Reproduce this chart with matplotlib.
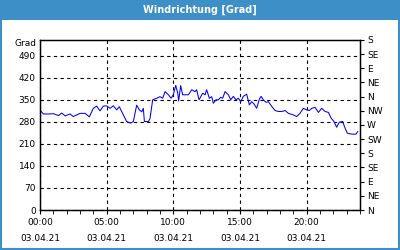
import matplotlib
matplotlib.use('Agg')
import matplotlib.pyplot as plt
from matplotlib.patches import Rectangle

# hours since 03.04.21 00:00 and wind direction in degrees
hours = [0.05, 0.25, 0.63, 1.0, 1.38, 1.63, 1.88, 2.25, 2.5, 3.0, 3.38, 3.7,
         4.0, 4.25, 4.5, 4.75, 5.0, 5.25, 5.5, 5.75, 5.95, 6.25, 6.5, 6.8,
         7.0, 7.25, 7.45, 7.63, 7.75, 7.83, 8.13, 8.25, 8.45, 8.75, 9.0, 9.2,
         9.38, 9.63, 9.83, 10.0, 10.18, 10.33, 10.4, 10.55, 10.7, 10.88, 11.13,
         11.38, 11.63, 11.75, 11.93,
         12.2, 12.38, 12.5, 12.7, 12.88, 13.0, 13.2, 13.38, 13.55, 13.7, 13.88,
         14.13, 14.3, 14.5, 14.7, 14.88, 15.05, 15.25, 15.5, 15.7, 15.88, 16.05,
         16.25, 16.45, 16.58, 16.75, 16.95, 17.13, 17.38, 17.63, 17.88, 18.13,
         18.38, 18.63, 19.0, 19.25, 19.5, 19.75, 20.0, 20.2, 20.38, 20.63, 20.88,
         21.13, 21.38, 21.63, 21.83, 22.05, 22.25, 22.45, 22.7, 22.88, 23.05,
         23.38, 23.7, 23.83]
degrees = [315, 305, 305, 306, 300, 308, 299, 305, 297, 307, 307, 296,
           323, 330, 315, 330, 331, 323, 331, 318, 328, 302, 281, 276,
           281, 333, 318, 312, 323, 281, 281, 290, 350, 355, 360, 355,
           376, 366, 355, 366, 396, 371, 347, 395, 366, 366, 366,
           382, 376, 382, 350,
           371, 366, 382, 355, 360, 339, 350, 350, 358, 355, 376,
           366, 350, 361, 350, 355, 344, 361, 368, 334, 344, 337,
           323, 352, 361, 350, 342, 344, 329, 316, 313, 313,
           316, 307, 302, 297, 307, 323, 318, 316, 323, 326, 310,
           323, 313, 310, 292, 281, 263, 279, 281, 260, 244,
           241, 241, 249]

left_ticks = [0, 70, 140, 210, 280, 350, 420, 490]
compass_ticks = [0, 45, 90, 135, 180, 225, 270, 315, 360, 405, 450, 495, 540]
compass_labels = ['N', 'NE', 'E', 'SE', 'S', 'SW', 'W', 'NW', 'N', 'NE', 'E', 'SE', 'S']
time_ticks = [0, 5, 10, 15, 20]
time_labels = ['00:00\n03.04.21', '05:00\n03.04.21', '10:00\n03.04.21',
               '15:00\n03.04.21', '20:00\n03.04.21']

blue = '#3d8fc7'
plt.rcParams['font.family'] = ['DejaVu Sans']

fig = plt.figure(figsize=(4, 2.5), dpi=100)
fig.patches.append(Rectangle((0, 0.92), 1, 0.08, transform=fig.transFigure,
                             facecolor=blue, edgecolor='none', zorder=0))
fig.patches.append(Rectangle((0.002, 0.004), 0.996, 0.992, transform=fig.transFigure,
                             facecolor='none', edgecolor=blue, linewidth=1.5, zorder=1))
fig.text(0.5, 0.96, 'Windrichtung [Grad]', color='white', fontsize=7,
         fontweight='bold', ha='center', va='center')

ax = fig.add_axes([0.1, 0.16, 0.8, 0.68])
ax.plot(hours, degrees, color='#0000ff', linewidth=0.75)
ax.set_xlim(0, 24)
ax.set_ylim(0, 540)

ax.set_yticks(left_ticks)
ax.tick_params(axis='y', length=0, labelsize=6.5, pad=3)
ax.set_xticks(time_ticks)
ax.set_xticklabels(time_labels, linespacing=1.9)
ax.set_xticks(range(0, 25), minor=True)
ax.tick_params(axis='x', which='both', length=3, direction='out', labelsize=6.5, pad=3)
ax.grid(True, which='major', color='black', linestyle=(0, (3, 3)), linewidth=0.8)

for s in ax.spines.values():
    s.set_linewidth(1)

ax2 = ax.twinx()
ax2.set_ylim(0, 540)
ax2.set_yticks(compass_ticks)
ax2.set_yticklabels(compass_labels)
ax2.tick_params(axis='y', length=3, direction='out', labelsize=6.5, pad=2)

fig.text(0.092, 0.825, 'Grad', fontsize=6.5, ha='right', va='center')

fig.savefig('out.png', dpi=100)
